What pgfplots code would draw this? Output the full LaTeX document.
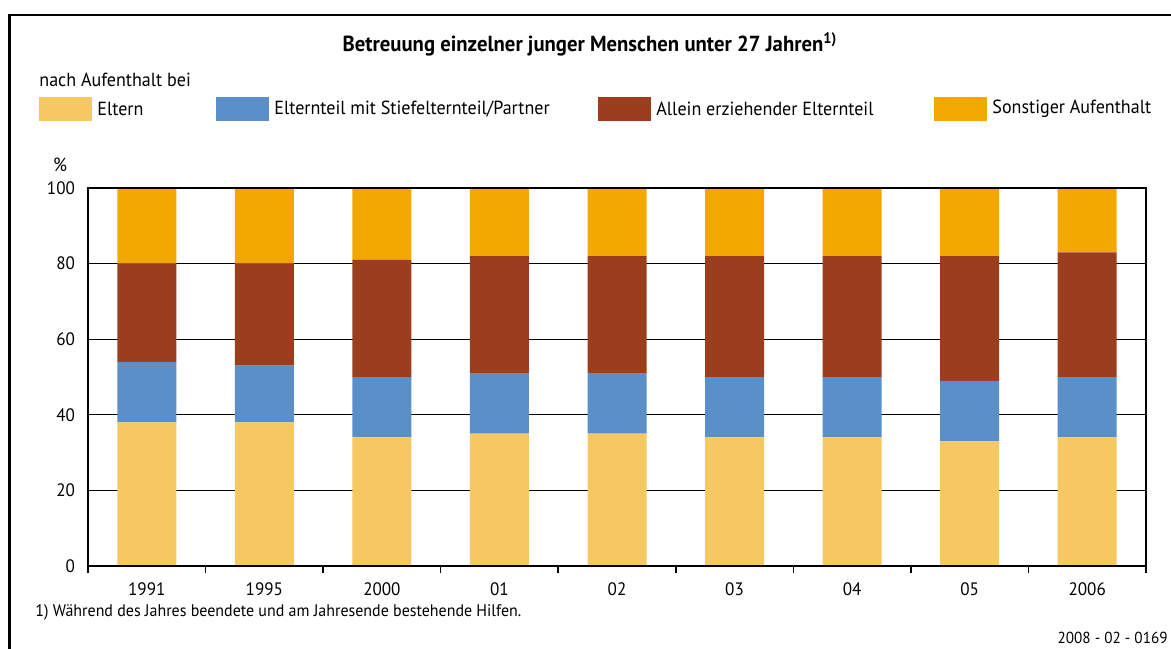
\documentclass[border=0pt]{standalone}
\usepackage{fontspec}
\setmainfont{PT Sans}[FakeStretch=0.95]
\usepackage{pgfplots}
\pgfplotsset{compat=1.18}
\definecolor{cEltern}{HTML}{F6C862}
\definecolor{cStief}{HTML}{5B8FC7}
\definecolor{cAllein}{HTML}{9A3E1E}
\definecolor{cSonst}{HTML}{F2A800}
\pgfplotsset{
  layers/gridbelow/.define layer set={
    axis background,axis grid,main,axis ticks,axis lines,axis tick labels,axis descriptions,axis foreground
  }{/pgfplots/layers/standard},
}
\begin{document}
\begin{tikzpicture}
\begin{scope}[x=0.5pt,y=-0.5pt]
\path[use as bounding box] (0,0) rectangle (1171,648);
\draw[line width=1.1pt] (9.5,700) -- (9.5,15) -- (1200,15);
\node[font=\fontsize{10.9}{12}\selectfont\bfseries] at (590,44) {Betreuung einzelner junger Menschen unter 27 Jahren\textsuperscript{1)}};
\node[font=\fontsize{9.5}{11}\selectfont, anchor=west, inner sep=0pt] at (39,80) {nach Aufenthalt bei};
\fill[cEltern] (39,97) rectangle (92,121);
\node[font=\fontsize{9.5}{11}\selectfont, anchor=west, inner sep=0pt] at (97,109) {Eltern};
\fill[cStief] (216,97) rectangle (269,121);
\node[font=\fontsize{9.5}{11}\selectfont, anchor=west, inner sep=0pt] at (274,109) {Elternteil mit Stiefelternteil/Partner};
\fill[cAllein] (598,97) rectangle (651,121);
\node[font=\fontsize{9.5}{11}\selectfont, anchor=west, inner sep=0pt] at (656,109) {Allein erziehender Elternteil};
\fill[cSonst] (934,97) rectangle (987,121);
\node[font=\fontsize{9.5}{11}\selectfont, anchor=west, inner sep=0pt] at (992,109) {Sonstiger Aufenthalt};
\node[font=\fontsize{9.5}{11}\selectfont, inner sep=0pt] at (60,165) {\%};
\node[font=\fontsize{8.4}{10}\selectfont, anchor=west, inner sep=0pt] at (35,612) {1) Während des Jahres beendete und am Jahresende bestehende Hilfen.};
\node[font=\fontsize{8}{10}\selectfont, anchor=east, inner sep=0pt] at (1168,638) {2008 - 02 - 0169};
\end{scope}
\begin{axis}[
  set layers=gridbelow,
  at={(44pt,-283pt)}, anchor=south west,
  width=529pt, height=189pt, scale only axis,
  xmin=-0.5, xmax=8.5, ymin=0, ymax=100,
  ybar stacked, bar width=29.5pt,
  xtick={0,...,8},
  xticklabels={1991,1995,2000,01,02,03,04,05,2006},
  minor xtick={-0.5,0.5,...,8.5},
  xtick pos=left,
  tick align=outside,
  major tick length=0pt,
  minor tick length=3.5pt,
  minor tick style={line width=0.8pt,black},
  ytick={0,20,...,100},
  ymajorgrids,
  major grid style={line width=0.55pt,black},
  axis line style={line width=1pt},
  /pgf/number format/assume math mode=true,
  tick label style={font=\fontsize{9}{11}\selectfont},
  x tick label style={yshift=-5pt},
  y tick label style={xshift=-3pt},
]
\addplot[fill=cEltern,draw=none] coordinates {(0,38) (1,38) (2,34) (3,35) (4,35) (5,34) (6,34) (7,33) (8,34)};
\addplot[fill=cStief,draw=none] coordinates {(0,16) (1,15) (2,16) (3,16) (4,16) (5,16) (6,16) (7,16) (8,16)};
\addplot[fill=cAllein,draw=none] coordinates {(0,26) (1,27) (2,31) (3,31) (4,31) (5,32) (6,32) (7,33) (8,33)};
\addplot[fill=cSonst,draw=none] coordinates {(0,20) (1,20) (2,19) (3,18) (4,18) (5,18) (6,18) (7,18) (8,17)};
\end{axis}
\end{tikzpicture}
\end{document}
